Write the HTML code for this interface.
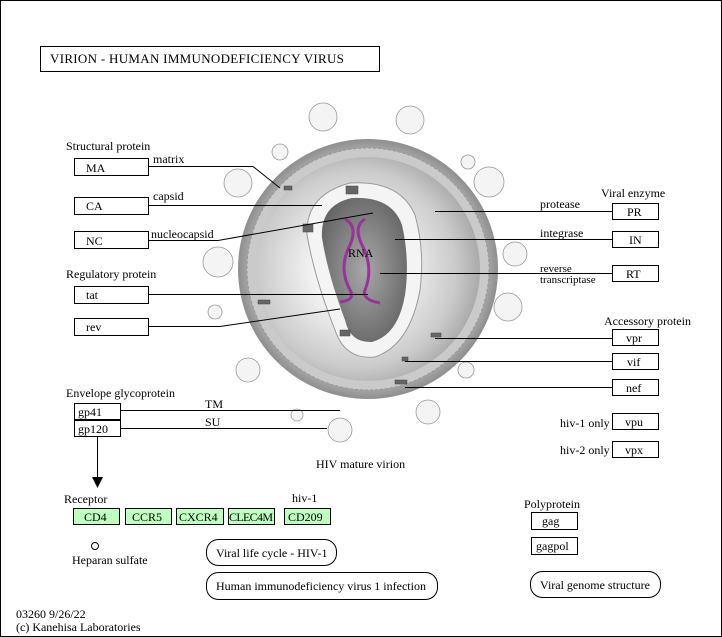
<!DOCTYPE html>
<html><head><meta charset="utf-8"><style>
body{margin:0;background:#fff}
svg{display:block;font-family:"Liberation Serif",serif;font-size:12px}
.b{fill:#fff;stroke:#000;stroke-width:1}
.g{fill:#bfffbf;stroke:#000;stroke-width:1}
.l{stroke:#000;stroke-width:1;fill:none}
</style></head><body>
<svg width="722" height="637" viewBox="0 0 722 637">
<defs>
<radialGradient id="og" cx="0.5" cy="0.5" r="0.5"><stop offset="0.85" stop-color="#bdbdbd"/><stop offset="1" stop-color="#8e8e8e"/></radialGradient>
<radialGradient id="ig" cx="0.45" cy="0.5" r="0.55"><stop offset="0.3" stop-color="#f8f8f8"/><stop offset="0.8" stop-color="#cbcbcb"/><stop offset="1" stop-color="#aaaaaa"/></radialGradient>
<radialGradient id="cg" cx="0.5" cy="0.5" r="0.6"><stop offset="0" stop-color="#a8a8a8"/><stop offset="1" stop-color="#626262"/></radialGradient>
</defs>
<rect x="0.5" y="0.5" width="721" height="636" fill="none" stroke="#000"/>
<rect x="40.5" y="46.5" width="339" height="25" class="b" stroke-width="2"/>
<text x="50" y="63" font-size="13" letter-spacing="0.3">VIRION - HUMAN  IMMUNODEFICIENCY  VIRUS</text>
<g fill="#f4f4f4" stroke="#999" stroke-width="0.8">
<circle cx="323" cy="117" r="14"/><circle cx="410" cy="120" r="14"/><circle cx="280" cy="152" r="8"/><circle cx="468" cy="162" r="7"/>
<circle cx="238" cy="183" r="14"/><circle cx="489" cy="182" r="15"/><circle cx="218" cy="262" r="15"/><circle cx="515" cy="254" r="12"/>
<circle cx="215" cy="312" r="7"/><circle cx="508" cy="307" r="14"/><circle cx="248" cy="370" r="12"/><circle cx="466" cy="370" r="8"/>
<circle cx="297" cy="415" r="6"/><circle cx="340" cy="430" r="12"/><circle cx="428" cy="412" r="12"/>
</g>
<circle cx="368" cy="269" r="130" fill="url(#og)"/>
<circle cx="368" cy="269" r="121" fill="#cacaca" stroke="#999" stroke-dasharray="3 2"/>
<circle cx="368" cy="269" r="112" fill="url(#ig)"/>
<path d="M350 183 Q400 180 415 215 Q425 250 420 290 Q410 345 375 357 Q345 360 335 330 Q315 280 307 235 Q305 195 350 183Z" fill="#f4f4f4" stroke="#999"/>
<path d="M352 198 Q392 196 402 225 Q410 260 405 295 Q398 335 372 342 Q350 343 345 320 Q328 275 322 238 Q320 205 352 198Z" fill="url(#cg)"/>
<g stroke="#993399" stroke-width="3" fill="none">
<path d="M345 219 Q358 226 350 245 Q338 268 350 290 Q356 300 340 302"/>
<path d="M365 219 Q353 226 362 245 Q374 268 365 290 Q362 300 380 303"/>
</g>
<text x="348" y="257" font-size="12">RNA</text>
<g fill="#666" stroke="#444" stroke-width="0.5">
<rect x="284" y="186" width="8" height="4"/><rect x="303" y="224" width="10" height="8"/><rect x="346" y="186" width="12" height="8"/>
<rect x="431" y="333" width="10" height="4"/><rect x="402" y="357" width="6" height="4"/><rect x="395" y="380" width="12" height="4"/>
<rect x="340" y="330" width="10" height="6"/><rect x="258" y="300" width="12" height="4"/>
</g>
<text x="66" y="150">Structural protein</text>
<rect x="74.5" y="158.5" width="74" height="17" class="b"/><text x="86" y="172">MA</text>
<rect x="74.5" y="197.5" width="74" height="17" class="b"/><text x="86" y="210">CA</text>
<rect x="74.5" y="231.5" width="74" height="17" class="b"/><text x="86" y="245">NC</text>
<text x="66" y="278">Regulatory protein</text>
<rect x="74.5" y="286.5" width="74" height="17" class="b"/><text x="86" y="299">tat</text>
<rect x="74.5" y="318.5" width="74" height="17" class="b"/><text x="86" y="331">rev</text>
<text x="66" y="397">Envelope glycoprotein</text>
<rect x="74.5" y="403.5" width="46" height="16" class="b"/><text x="78" y="416">gp41</text>
<rect x="74.5" y="420.5" width="46" height="16" class="b"/><text x="78" y="433">gp120</text>
<path class="l" d="M148 166.5H253L280 188M148 205.5H322M148 240.5H218L373 213M148 294.5H368M148 326.5H220L340 309M120 410.5H340M120 428.5H327"/>
<text x="153" y="163">matrix</text><text x="153" y="200">capsid</text><text x="151" y="238">nucleocapsid</text>
<text x="205" y="408">TM</text><text x="205" y="426">SU</text>
<line x1="97.5" y1="437" x2="97.5" y2="478" class="l"/><path d="M92 477L103 477L97.5 488Z"/>
<text x="601" y="197">Viral enzyme</text>
<rect x="612.5" y="203.5" width="46" height="16" class="b"/><text x="627" y="216">PR</text>
<rect x="612.5" y="231.5" width="46" height="16" class="b"/><text x="629" y="244">IN</text>
<rect x="612.5" y="265.5" width="46" height="16" class="b"/><text x="626" y="278">RT</text>
<text x="604" y="325">Accessory protein</text>
<rect x="612.5" y="329.5" width="46" height="16" class="b"/><text x="626" y="342">vpr</text>
<rect x="612.5" y="353.5" width="46" height="16" class="b"/><text x="627" y="366">vif</text>
<rect x="612.5" y="379.5" width="46" height="16" class="b"/><text x="626" y="392">nef</text>
<rect x="612.5" y="413.5" width="46" height="16" class="b"/><text x="625" y="426">vpu</text>
<rect x="612.5" y="441.5" width="46" height="16" class="b"/><text x="625" y="454">vpx</text>
<text x="560" y="427">hiv-1 only</text><text x="560" y="454">hiv-2 only</text>
<path class="l" d="M612 211.5H435M612 239.5H395M612 273.5H380M612 338.5H435M612 361.5H405M612 387.5H405"/>
<text x="540" y="208">protease</text><text x="540" y="237">integrase</text>
<text x="540" y="272" font-size="11">reverse</text><text x="540" y="283" font-size="11">transcriptase</text>
<text x="316" y="468">HIV mature virion</text>
<text x="64" y="503">Receptor</text><text x="292" y="502">hiv-1</text>
<rect x="73.5" y="508.5" width="46" height="16" class="g"/><text x="84" y="521">CD4</text>
<rect x="125.5" y="508.5" width="46" height="16" class="g"/><text x="132" y="521">CCR5</text>
<rect x="176.5" y="508.5" width="47" height="16" class="g"/><text x="179" y="521">CXCR4</text>
<rect x="228.5" y="508.5" width="46" height="16" class="g"/><text x="229" y="521" textLength="44">CLEC4M</text>
<rect x="284.5" y="508.5" width="46" height="16" class="g"/><text x="288" y="521">CD209</text>
<circle cx="95" cy="546" r="3.5" fill="#fff" stroke="#000"/>
<text x="72" y="564">Heparan sulfate</text>
<rect x="206.5" y="539.5" width="130" height="26" rx="12" class="b"/><text x="216" y="557">Viral life cycle - HIV-1</text>
<rect x="206.5" y="572.5" width="231" height="27" rx="12" class="b"/><text x="216" y="590">Human immunodeficiency virus 1 infection</text>
<text x="524" y="508">Polyprotein</text>
<rect x="531.5" y="512.5" width="46" height="17" class="b"/><text x="542" y="525">gag</text>
<rect x="531.5" y="537.5" width="46" height="17" class="b"/><text x="536" y="550">gagpol</text>
<rect x="530.5" y="571.5" width="130" height="26" rx="12" class="b"/><text x="540" y="589">Viral genome structure</text>
<text x="16" y="618">03260 9/26/22</text><text x="16" y="631">(c) Kanehisa Laboratories</text>
</svg>
</body></html>
